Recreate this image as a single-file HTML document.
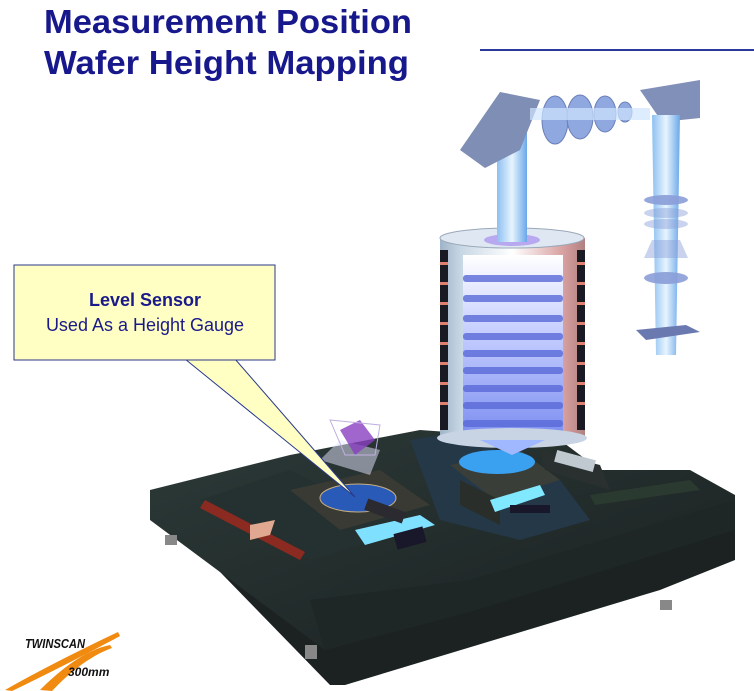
<!DOCTYPE html>
<html><head><meta charset="utf-8"><style>
html,body{margin:0;padding:0;background:#fff;width:754px;height:691px;overflow:hidden}
svg{display:block}
</style></head><body>
<svg width="754" height="691" viewBox="0 0 754 691" xmlns="http://www.w3.org/2000/svg">
<defs>
<linearGradient id="beam" x1="0" x2="1"><stop offset="0" stop-color="#8cc0f0"/><stop offset=".5" stop-color="#e8f4ff"/><stop offset="1" stop-color="#6aa8e8"/></linearGradient>
<linearGradient id="col" x1="0" x2="1"><stop offset="0" stop-color="#9fb4c8"/><stop offset=".15" stop-color="#c9d8e6"/><stop offset=".5" stop-color="#ffffff"/><stop offset=".85" stop-color="#d8a0a0"/><stop offset="1" stop-color="#b08080"/></linearGradient>
<linearGradient id="core" x1="0" x2="0" y1="0" y2="1"><stop offset="0" stop-color="#ffffff"/><stop offset=".4" stop-color="#c8d0ff"/><stop offset="1" stop-color="#7a8cf0"/></linearGradient>
<linearGradient id="gran" x1="0" x2="1" y1="0" y2="1"><stop offset="0" stop-color="#2c3a38"/><stop offset="1" stop-color="#1a2020"/></linearGradient>
</defs>
<text x="44" y="33" font-family="Liberation Sans, sans-serif" font-weight="bold" font-size="33" fill="#17188c" textLength="368" lengthAdjust="spacingAndGlyphs">Measurement Position</text>
<text x="44" y="74" font-family="Liberation Sans, sans-serif" font-weight="bold" font-size="33" fill="#17188c" textLength="365" lengthAdjust="spacingAndGlyphs">Wafer Height Mapping</text>
<rect x="480" y="49" width="274" height="2" fill="#2a3a9a"/>

<!-- base machine -->
<polygon points="150,500 330,685 345,685 660,590 735,560 735,520 470,600 330,640 160,510" fill="#1c2222"/>
<polygon points="150,490 290,455 420,430 560,440 600,470 690,470 735,495 735,525 470,610 325,650 150,520" fill="url(#gran)"/>
<polygon points="310,600 470,580 735,500 735,530 470,612 325,650" fill="#1e2626"/>
<polygon points="200,500 290,470 410,530 310,560" fill="#253030"/>
<polygon points="205,500 305,552 300,560 200,508" fill="#8a2a20"/>
<polygon points="590,495 690,480 700,490 595,505" fill="#2a3a30"/>
<polygon points="410,440 470,430 520,470 560,480 590,520 520,540 440,520" fill="#243848"/>
<!-- left stage -->
<polygon points="290,490 380,470 430,505 340,530" fill="#3a3a34"/>
<ellipse cx="358" cy="498" rx="38" ry="14" fill="#2a5ab8" stroke="#c8b080"/>
<polygon points="320,460 340,440 380,450 370,475" fill="#e8e8ff" opacity=".5"/>
<polygon points="340,430 360,420 375,440 355,455" fill="#8a40c0" opacity=".8"/>
<polygon points="330,420 380,425 375,455 345,455" fill="none" stroke="#c0b0e0"/>
<polygon points="355,530 420,515 435,525 365,545" fill="#80e0ff"/>
<rect x="365" y="505" width="40" height="12" fill="#2a2a30" transform="rotate(20 385 511)"/>
<rect x="395" y="530" width="30" height="16" fill="#18182a" transform="rotate(-15 410 538)"/>
<polygon points="250,525 275,520 270,535 250,540" fill="#e0a890"/>
<!-- right stage -->
<polygon points="450,465 520,450 560,480 495,500" fill="#3a3e38"/>
<polygon points="460,480 500,500 500,525 460,505" fill="#2a2e2a"/>
<ellipse cx="497" cy="462" rx="38" ry="12" fill="#3aa0f0"/>
<polygon points="490,500 540,485 545,495 495,512" fill="#80e8ff"/>
<polygon points="540,450 600,465 610,490 545,470" fill="#2a3030"/>
<rect x="555" y="455" width="40" height="12" fill="#c0c8d0" transform="rotate(15 575 461)"/>
<rect x="510" y="505" width="40" height="8" fill="#18182a"/>
<!-- legs -->
<rect x="165" y="535" width="12" height="10" fill="#888"/>
<rect x="305" y="645" width="12" height="14" fill="#888"/>
<rect x="660" y="600" width="12" height="10" fill="#888"/>

<!-- projection column -->
<rect x="440" y="238" width="145" height="200" fill="url(#col)"/>
<g fill="#1a1a22">
<rect x="440" y="250" width="8" height="180"/><rect x="577" y="250" width="8" height="180"/>
</g>
<g fill="#e08070">
<rect x="440" y="262" width="8" height="3"/><rect x="440" y="282" width="8" height="3"/><rect x="440" y="302" width="8" height="3"/><rect x="440" y="322" width="8" height="3"/><rect x="440" y="342" width="8" height="3"/><rect x="440" y="362" width="8" height="3"/><rect x="440" y="382" width="8" height="3"/><rect x="440" y="402" width="8" height="3"/>
<rect x="577" y="262" width="8" height="3"/><rect x="577" y="282" width="8" height="3"/><rect x="577" y="302" width="8" height="3"/><rect x="577" y="322" width="8" height="3"/><rect x="577" y="342" width="8" height="3"/><rect x="577" y="362" width="8" height="3"/><rect x="577" y="382" width="8" height="3"/><rect x="577" y="402" width="8" height="3"/>
</g>
<rect x="463" y="255" width="100" height="185" fill="url(#core)"/>
<g fill="#5a6ad8" opacity=".8">
<rect x="463" y="275" width="100" height="7" rx="3"/><rect x="463" y="295" width="100" height="7" rx="3"/>
<rect x="463" y="315" width="100" height="7" rx="3"/><rect x="463" y="333" width="100" height="7" rx="3"/>
<rect x="463" y="350" width="100" height="7" rx="3"/><rect x="463" y="367" width="100" height="7" rx="3"/>
<rect x="463" y="385" width="100" height="7" rx="3"/><rect x="463" y="402" width="100" height="7" rx="3"/>
<rect x="463" y="420" width="100" height="7" rx="3"/>
</g>
<ellipse cx="512" cy="238" rx="72" ry="10" fill="#dfe8f2" stroke="#9aa8b8"/>
<ellipse cx="512" cy="240" rx="28" ry="6" fill="#b8a8f0"/>
<ellipse cx="512" cy="438" rx="75" ry="10" fill="#c8d4e4"/>
<polygon points="480,440 545,440 512,455" fill="#a0b8ff"/>
<!-- beams -->
<rect x="497" y="130" width="30" height="112" fill="url(#beam)"/>
<polygon points="460,150 500,92 540,100 520,150 485,168" fill="#7f8eb4"/>
<g fill="#8fa8e0" stroke="#6b7fb8">
<ellipse cx="555" cy="120" rx="13" ry="24"/><ellipse cx="580" cy="117" rx="13" ry="22"/><ellipse cx="605" cy="114" rx="11" ry="18"/><ellipse cx="625" cy="112" rx="7" ry="10"/>
</g>
<rect x="530" y="108" width="120" height="12" fill="#cfe6ff" opacity=".7"/>
<polygon points="640,90 700,80 700,118 662,122" fill="#8090b8"/>
<polygon points="652,115 680,115 676,355 656,355" fill="url(#beam)"/>
<g fill="#8a9ed8" opacity=".9">
<ellipse cx="666" cy="200" rx="22" ry="5"/><ellipse cx="666" cy="213" rx="22" ry="5" opacity=".5"/><ellipse cx="666" cy="224" rx="22" ry="5" opacity=".5"/>
<polygon points="652,240 680,240 688,258 644,258" opacity=".5"/>
<ellipse cx="666" cy="278" rx="22" ry="6"/>
</g>
<polygon points="636,330 686,325 700,332 646,340" fill="#6a7ab0"/>

<!-- callout -->
<polygon points="185,359 235,359 355,497" fill="#ffffc4" stroke="#2a3a8a" stroke-width="1"/>
<rect x="14" y="265" width="261" height="95" fill="#ffffc4" stroke="#2a3a8a" stroke-width="1"/>
<rect x="186" y="355" width="48" height="4.5" fill="#ffffc4"/>
<text x="145" y="306" text-anchor="middle" font-family="Liberation Sans, sans-serif" font-weight="bold" font-size="18" fill="#1a1a8a">Level Sensor</text>
<text x="145" y="331" text-anchor="middle" font-family="Liberation Sans, sans-serif" font-size="18" fill="#1a1a8a">Used As a Height Gauge</text>

<!-- logo -->
<path d="M5,690 C40,670 80,650 118,632 L120,636 C85,655 45,675 12,691 Z" fill="#f08a10"/>
<path d="M40,690 C60,670 85,650 110,645 L112,648 C90,656 70,672 52,691 Z" fill="#f08a10"/>
<text x="25" y="648" font-family="Liberation Sans, sans-serif" font-weight="bold" font-style="italic" font-size="13" fill="#111" textLength="60" lengthAdjust="spacingAndGlyphs">TWINSCAN</text>
<text x="68" y="676" font-family="Liberation Sans, sans-serif" font-weight="bold" font-style="italic" font-size="12" fill="#111">300mm</text>
</svg>
</body></html>
